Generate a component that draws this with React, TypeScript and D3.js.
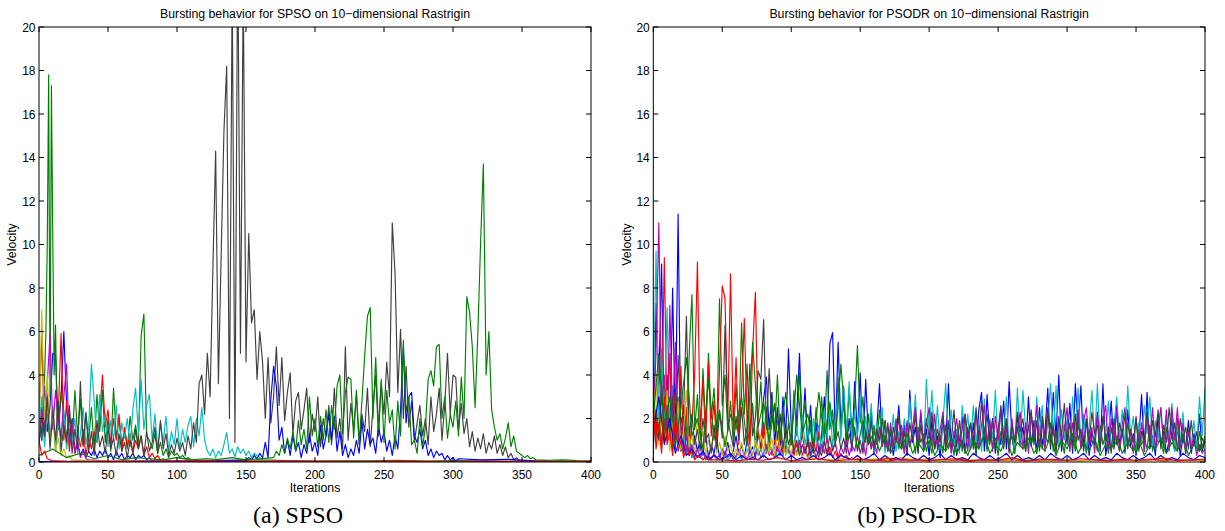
import React from 'react';
import * as d3 from 'd3';

type Seg = { start: number; step: number; values: number[] };
type Series = { color: string; segs: Seg[] };

// MATLAB default colour order
const BLUE = '#0000ff';
const GREEN = '#008000';
const RED = '#ff0000';
const CYAN = '#00bfbf';
const MAGENTA = '#bf00bf';
const YELLOW = '#bfbf00';
const BLACK = '#404040';

const xTicks = [0, 50, 100, 150, 200, 250, 300, 350, 400];
const yTicks = [0, 2, 4, 6, 8, 10, 12, 14, 16, 18, 20];

// ---------- SPSO (left) ----------
const spsoBlue1 = [2.0, 1.0, 3.5, 1.4, 2.6, 5.0, 4.9, 1.5, 3.0, 6.0, 2.6, 1.0, 2.0, 0.5, 0.8, 0.3, 0.6, 0.2, 0.5, 0.3,
  0.6, 0.2, 0.5, 0.3, 0.6, 0.2, 0.4, 0.1, 0.5, 0.2, 0.4, 0.1, 0.3, 0.2, 0.4, 0.1, 0.3, 0.2, 0.3, 0.1,
  0.2, 0.05, 0.1, 0.03, 0.05, 0.02];
const spsoBlue1Tail = [0.02, 0.01, 0.02, 0.01, 0.02, 0.01, 0.01, 0.02, 0.01, 0.01, 0.02, 0.01, 0.01, 0.01, 0.02, 0.01];

const spsoGreen1Head = [2.5, 1.8, 1.0, 3.0, 3.8, 6.0, 10.0, 17.8, 3.0, 17.3, 10.2, 4.0, 6.3, 2.0, 1.5, 2.4, 3.2];
const spsoGreen1 = [2.2, 1.1, 2.6, 0.8, 3.3, 1.2, 2.9, 0.7, 2.2, 1.0, 2.5, 0.6, 3.1, 1.4, 3.3, 0.9, 2.0, 0.5, 3.4, 1.1,
  2.0, 0.8, 1.5, 0.6, 2.1, 1.0, 1.7, 0.7, 5.8, 6.8, 1.2, 1.0, 0.6, 1.3, 0.4, 0.9, 0.3, 0.6, 0.2, 0.5,
  0.3, 0.4, 0.2, 0.3, 0.15, 0.2, 0.1];
const spsoGreen1Tail = [0.08, 0.05, 0.1, 0.06, 0.04, 0.07, 0.05, 0.08, 0.04, 0.06, 0.05, 0.03, 0.04, 0.03, 0.02];

const spsoRed1 = [2.0, 5.8, 1.2, 3.1, 0.8, 2.5, 0.6, 2.2, 5.9, 1.0, 2.8, 0.5, 1.7, 0.4, 1.2, 0.7, 1.5, 0.3, 1.1, 0.6,
  1.4, 0.9, 2.2, 4.0, 1.6, 2.4, 0.8, 2.0, 1.0, 2.2, 0.5, 1.6, 0.7, 1.3, 0.4, 1.0, 0.6, 1.2, 0.3, 0.7,
  0.2, 0.4, 0.15, 0.3, 0.1, 0.15, 0.05, 0.08, 0.03];
const spsoRed1Tail = [0.03, 0.02, 0.03, 0.02, 0.02, 0.03, 0.02, 0.02, 0.03, 0.02, 0.02, 0.02, 0.03, 0.02, 0.02, 0.02];

const spsoCyan = [1.5, 3.0, 0.7, 2.2, 1.0, 2.6, 0.5, 1.8, 1.2, 2.4, 0.6, 1.5, 0.9, 2.0, 0.4, 1.3, 2.5, 0.8, 1.6, 4.5,
  2.8, 0.9, 3.1, 1.4, 2.2, 0.7, 1.9, 1.0, 2.6, 0.6, 1.8, 1.1, 2.0, 0.7, 2.4, 3.4, 1.3, 3.8, 1.5, 2.6,
  3.1, 1.0, 2.2, 0.6, 1.8, 0.9, 2.1, 0.5, 1.4, 0.8, 2.0, 0.6, 1.5, 0.9, 1.7, 2.1, 0.7, 2.0, 1.2, 2.5,
  1.0, 0.5, 0.3, 0.6, 0.2, 0.5, 0.3, 0.8, 1.35, 0.4, 0.6, 0.25, 0.7, 0.4, 0.6, 0.3, 0.5, 0.2, 0.4, 0.3,
  0.2, 0.1, 0.05];
const spsoCyanTail = [0.03, 0.02, 0.04, 0.02, 0.03, 0.02, 0.02, 0.03, 0.02, 0.02, 0.01, 0.02];

const spsoMagenta = [0.8, 2.5, 1.2, 3.6, 5.9, 1.5, 3.3, 2.0, 1.0, 3.0, 4.5, 0.8, 1.9, 0.4, 0.9, 0.2, 0.5, 0.15, 0.1];
const spsoMagentaTail = [0.04, 0.03, 0.05, 0.03, 0.02, 0.04, 0.03, 0.02, 0.03, 0.02, 0.02, 0.03, 0.02, 0.01, 0.02];

const spsoYellow = [1.0, 7.0, 2.0, 4.0, 0.8, 2.4, 0.5, 1.1, 0.3, 0.6, 0.2, 0.3, 0.1];
const spsoYellowTail = [0.05, 0.03, 0.04, 0.02, 0.03, 0.02, 0.03, 0.02, 0.02, 0.03, 0.02, 0.01, 0.02, 0.02, 0.01, 0.02, 0.01, 0.01, 0.02];

const spsoBlack = [0.8, 2.1, 1.2, 3.0, 0.6, 2.4, 1.0, 2.8, 0.5, 1.7,
  0.9, 2.2, 0.4, 1.5, 0.6, 3.7, 0.8, 2.3, 0.5, 1.4,
  0.3, 1.9, 0.7, 1.2, 0.4, 1.6, 0.6, 1.1, 0.3, 1.3,
  0.5, 0.9, 0.2, 1.0, 0.4, 1.5, 0.6, 1.2, 0.3, 1.4,
  0.5, 0.9, 1.6, 0.4, 1.9, 0.6, 1.3, 0.3, 0.8, 0.4,
  1.1, 0.5, 0.9, 0.3, 1.2, 0.6, 1.8, 0.9, 3.6, 4.0,
  2.2, 5.0, 3.0, 8.9, 14.3, 3.6, 9.5, 15.2, 18.2, 2.0,
  22, 0.9, 24, 5.0, 22, 4.6, 10.5, 6.4, 7.0, 3.8,
  6.0, 4.6, 2.0, 4.8, 1.8, 3.0, 5.3, 2.6, 4.8, 1.9,
  3.2, 4.1, 1.3, 2.8, 3.2, 1.5, 2.4, 3.4, 0.9, 2.2,
  1.4, 3.0, 0.7, 2.0, 1.2, 2.6, 0.8, 3.4, 1.1, 2.0,
  0.6, 5.3, 1.0, 2.7, 1.5, 3.1, 0.8, 2.2, 1.4, 3.4,
  0.7, 2.5, 4.0, 1.2, 3.6, 2.2, 4.6, 3.0, 11.0, 8.7,
  3.2, 6.1, 2.0, 4.4, 1.6, 2.8, 0.9, 1.8, 2.6, 1.2,
  2.0, 0.8, 3.0, 1.4, 2.2, 3.4, 1.0, 2.6, 5.0, 2.2,
  4.0, 3.9, 1.5, 2.7, 1.3, 2.0, 0.7, 1.4, 0.5, 1.1,
  0.6, 1.3, 0.4, 0.9, 0.6, 1.2, 0.4, 0.8, 0.3, 0.7,
  0.2, 0.4, 0.1, 0.2, 0.05];
const spsoBlackTail = [0.03, 0.02, 0.03, 0.02, 0.02];

const spsoBlue2Pre = [0.02, 0.03, 0.02, 0.04, 0.03, 0.05, 0.1];
const spsoBlue2 = [0.2, 0.1, 0.3, 0.15, 0.4, 0.2, 0.9, 0.2, 2.9, 4.4,
  3.5, 1.0, 1.6, 0.4, 1.0, 0.3, 1.2, 0.5, 0.9, 0.2,
  0.8, 0.4, 1.3, 0.5, 0.9, 0.3, 1.7, 0.6, 1.2, 2.2,
  1.0, 2.1, 0.5, 1.4, 0.3, 0.8, 0.2, 0.6, 0.3, 1.0,
  0.4, 1.9, 0.6, 1.5, 0.8, 1.1, 0.4, 1.7, 0.9, 1.4,
  0.5, 1.0, 0.3, 1.2, 0.6, 2.4, 5.3, 1.8, 3.0, 3.2,
  1.2, 0.9, 1.5, 0.6, 1.0, 0.3, 0.6, 0.2, 0.5, 0.3,
  0.4, 0.1, 0.3, 0.1, 0.2, 0.05, 0.15];
const spsoBlue2Tail = [0.1, 0.12, 0.05, 0.02, 0.01];

const spsoGreen2Pre = [0.3, 0.6, 0.2, 0.4, 0.15, 0.3, 0.1, 0.2, 0.15, 0.1, 0.2, 0.1, 0.15, 0.12, 0.2, 0.1, 0.15];
const spsoGreen2 = [0.2, 0.5, 0.3, 0.8, 0.4, 1.1, 0.6, 1.4, 0.5, 1.9,
  0.8, 1.5, 0.6, 3.0, 1.2, 2.0, 0.7, 2.1, 1.0, 2.4,
  0.9, 2.6, 1.5, 3.5, 4.0, 1.3, 3.2, 3.9, 3.8, 1.1,
  3.3, 0.9, 2.8, 4.9, 6.7, 7.1, 2.0, 4.8, 1.5, 3.8,
  0.9, 3.3, 1.8, 2.4, 0.6, 2.8, 1.2, 5.6, 2.3, 3.0,
  0.8, 1.0, 0.4, 2.0, 0.7, 1.6, 3.8, 4.2, 3.5, 5.3,
  5.4, 2.0, 3.0, 1.1, 2.2, 1.6, 2.8, 1.2, 3.9, 2.0,
  7.6, 6.9, 5.3, 2.5, 5.9, 10.1, 13.7, 4.0, 6.0, 2.4,
  1.6, 1.0, 1.3, 0.6, 1.1, 1.8, 0.7, 1.2, 0.5, 0.4,
  0.3, 0.2, 0.3, 0.15, 0.2, 0.1];
const spsoGreen2Tail = [0.08, 0.1, 0.06, 0.05];

const spsoRed2Head = [1.0, 0.3, 0.5, 0.15, 0.1, 0.05];
const spsoRed2Tail = [0.03, 0.02, 0.04, 0.02, 0.03, 0.05, 0.02, 0.03, 0.04, 0.02, 0.03, 0.02, 0.04, 0.03, 0.02, 0.03, 0.02, 0.03, 0.02, 0.03];

// ---------- PSO-DR (right) ----------
const drBlue1 = [0.3, 7.3, 3.6, 9.1, 1.2, 4.0, 0.8, 8.0, 1.4, 11.4,
  0.5, 2.1, 0.4, 1.6, 0.2, 1.2, 0.5, 1.0, 0.3, 1.3,
  0.2, 0.8, 0.4, 1.1, 0.2, 0.6, 0.3, 0.9, 0.2, 0.5,
  1.2, 0.3, 0.8, 0.2, 1.0, 0.4, 0.7, 0.2, 1.4, 0.6,
  2.9, 3.9, 1.5, 3.2, 0.8, 2.5, 0.6, 3.0, 1.1, 5.2,
  1.6, 0.4, 2.2, 5.0, 1.2, 3.4, 0.7, 2.6, 0.5, 1.8,
  0.4, 1.2, 3.0, 0.9, 5.45, 5.95, 1.0, 5.5, 1.6, 3.4,
  0.7, 2.0, 0.5, 3.7, 1.2, 4.1, 0.6, 3.8, 1.0, 2.4,
  0.4, 1.5, 3.6, 0.8, 1.9, 0.5, 1.4, 0.3, 1.1, 2.6,
  0.6, 1.8, 0.3, 3.3, 0.9, 1.6, 0.4, 2.2, 0.7, 1.5,
  0.3, 1.9, 0.6, 1.2, 0.2, 2.0, 0.8, 3.6, 0.5, 1.4,
  0.3, 1.0, 2.1, 0.4, 1.3, 0.6, 1.8, 0.3, 2.4, 3.2,
  0.5, 3.1, 1.0, 2.0, 0.4, 1.5, 0.8, 2.8, 0.6, 3.7,
  1.2, 0.4, 2.2, 0.9, 1.6, 0.5, 3.0, 0.7, 1.9, 0.4,
  2.5, 0.8, 1.4, 3.4, 0.6, 3.2, 1.1, 4.0, 0.5, 1.7,
  0.9, 2.7, 0.4, 3.6, 1.5, 3.5, 0.6, 2.0, 0.3, 1.4,
  0.8, 2.3, 0.5, 3.6, 0.3, 1.2, 2.8, 0.6, 2.6, 0.9,
  1.5, 0.4, 2.4, 0.7, 1.3, 0.3, 1.0, 3.1, 0.5, 3.2,
  0.6, 1.2, 0.3, 2.1, 0.8, 1.4, 0.4, 1.0, 2.0, 0.5,
  1.6, 0.3, 1.1, 0.6, 1.9, 0.4, 1.3, 0.7, 2.2, 0.5,
  1.0];

const drGreen1 = [4.0, 1.2, 2.8, 0.6, 3.5, 1.0, 2.4, 0.5, 1.8, 3.0,
  0.7, 2.6, 1.1, 4.9, 7.7, 1.5, 3.1, 0.8, 4.3, 1.6,
  5.0, 2.0, 3.4, 1.2, 7.5, 2.6, 4.0, 1.4, 2.8, 0.9,
  3.6, 1.3, 6.4, 2.2, 4.5, 1.0, 2.7, 0.7, 2.0, 3.7,
  1.1, 2.5, 0.6, 2.9, 1.4, 4.0, 1.0, 2.3, 0.5, 1.8,
  0.8, 3.3, 1.2, 4.2, 1.6, 2.8, 0.9, 1.9, 0.6, 2.5,
  1.0, 3.0, 1.3, 4.2, 1.5, 2.4, 0.7, 3.9, 1.2, 2.8,
  0.8, 3.4, 1.4, 2.6, 5.35, 1.8, 3.0, 0.9, 2.2, 0.6,
  1.7, 0.8, 2.4, 1.0, 1.9, 0.5, 1.5, 0.8, 2.0, 0.6,
  1.4, 0.4, 1.8, 0.7, 1.2, 0.4, 1.6, 0.9, 1.3, 0.5,
  1.0, 0.4, 1.5, 0.8, 1.2, 0.4, 1.7, 0.6, 1.1, 0.3,
  1.4, 0.7, 1.0, 0.4, 1.6, 0.6, 1.2, 0.4, 1.5, 0.9,
  1.3, 0.5, 1.8, 0.7, 1.1, 0.3, 1.4, 0.6, 1.9, 0.8,
  1.2, 0.4, 1.6, 0.7, 1.0, 0.5, 1.7, 0.8, 1.3, 0.4,
  1.5, 0.6, 1.2, 0.9, 1.8, 0.5, 1.4, 0.7, 1.1, 0.4,
  1.6, 0.8, 1.3, 0.5, 1.9, 0.7, 1.2, 0.4, 1.5, 0.9,
  1.1, 0.5, 1.7, 0.8, 1.3, 0.4, 1.6, 0.7, 1.0, 0.5,
  1.4, 0.6, 1.8, 0.9, 1.2, 0.4, 1.5, 0.8, 1.1, 0.6,
  1.7, 0.5, 1.3, 0.9, 1.0, 0.4, 1.6, 0.7, 1.2, 0.5,
  2.0, 0.8, 1.3, 0.4, 1.5, 0.7, 1.0, 0.5, 1.4, 0.6,
  1.2];

const drRed1 = [3.5, 1.0, 4.5, 2.0, 9.4, 1.5, 5.0, 0.8, 3.2, 1.2,
  4.4, 0.6, 2.5, 0.3, 1.8, 4.0, 9.2, 1.5, 3.8, 0.9,
  4.6, 1.2, 2.8, 0.7, 4.3, 8.1, 7.5, 2.0, 8.65, 1.5,
  4.8, 0.8, 3.2, 6.6, 1.8, 0.6, 5.1, 7.8, 1.4, 0.5,
  1.8, 0.4, 1.2, 0.3, 1.0, 0.5, 1.4, 0.3, 0.9, 0.4,
  1.1, 0.3, 0.8, 0.5, 1.3, 0.4, 0.9, 0.2, 1.0, 0.5,
  1.4, 0.6, 1.0, 0.3, 0.7, 0.2, 0.5, 0.1, 0.4, 0.2,
  0.3, 0.1, 0.2, 0.1, 0.15, 0.1];
const drRed1Tail = [0.1, 0.05, 0.12, 0.08, 0.15, 0.06, 0.1, 0.04, 0.12, 0.08, 0.1, 0.05, 0.14, 0.07, 0.1, 0.05, 0.12, 0.08, 0.1, 0.06, 0.13, 0.05, 0.1, 0.07, 0.1];

const drCyan = [3.0, 9.7, 1.5, 5.2, 2.0, 7.1, 1.0, 3.5, 0.6, 2.4,
  0.5, 1.3, 0.3, 1.0, 0.2, 0.6, 0.2, 0.4, 0.1, 0.3,
  0.1, 0.2, 0.3, 0.1, 0.2, 0.1, 0.3, 0.1, 0.2, 0.4,
  0.2, 0.5, 0.1, 0.3, 0.6, 0.2, 0.4, 0.8, 0.3, 0.6,
  0.2, 0.5, 1.0, 0.4, 0.7, 0.2, 0.6, 0.3, 0.9, 0.4,
  1.2, 0.5, 1.6, 0.6, 2.2, 0.8, 1.5, 0.4, 2.0, 0.9,
  1.7, 0.5, 2.4, 1.1, 2.8, 0.7, 1.9, 3.2, 1.0, 3.5,
  1.4, 3.7, 0.8, 2.3, 1.2, 3.0, 0.6, 2.1, 1.0, 2.7,
  0.5, 1.8, 0.9, 2.5, 0.4, 1.6, 0.8, 2.2, 0.5, 1.4,
  0.9, 2.0, 0.6, 2.9, 1.1, 3.1, 0.7, 1.8, 0.5, 3.8,
  1.3, 3.3, 0.8, 2.6, 0.6, 1.9, 3.6, 1.0, 2.4, 0.7,
  1.5, 0.4, 2.6, 1.0, 2.2, 0.6, 2.6, 0.9, 1.7, 0.5,
  2.9, 0.8, 2.0, 1.1, 3.3, 0.6, 2.5, 1.2, 3.0, 0.7,
  1.9, 0.5, 3.4, 1.0, 3.3, 1.4, 0.6, 2.2, 0.9, 3.0,
  1.3, 2.6, 0.7, 1.8, 3.6, 1.2, 3.5, 0.8, 2.4, 1.0,
  2.0, 0.5, 3.0, 1.3, 3.4, 0.9, 2.2, 0.6, 1.6, 3.3,
  1.0, 3.6, 0.8, 2.0, 1.4, 2.8, 0.5, 1.7, 3.0, 1.1,
  2.4, 0.7, 3.5, 1.2, 2.1, 0.6, 1.8, 0.9, 2.6, 1.3,
  3.0, 0.7, 1.9, 1.0, 2.5, 0.6, 2.0, 1.1, 2.7, 0.5,
  1.6, 0.9, 2.3, 0.4, 1.4, 0.8, 1.9, 0.5, 3.0, 1.2,
  3.4];

const drMagenta = [2.0, 5.0, 11.0, 2.5, 4.0, 1.0, 7.2, 2.0, 5.5, 0.8,
  1.9, 0.4, 1.2, 0.3, 0.8, 0.2, 0.6, 0.2, 0.5, 0.1,
  0.3, 0.1, 0.4, 0.2, 0.3, 0.1, 0.5, 0.2, 0.4, 0.1,
  0.3, 0.6, 0.2, 0.4, 0.1, 0.5, 0.2, 0.3, 0.6, 0.2,
  0.4, 0.8, 0.3, 0.5, 0.2, 0.7, 0.3, 0.9, 0.4, 0.6,
  0.2, 0.8, 0.4, 1.0, 0.3, 0.7, 0.2, 0.9, 0.4, 0.6,
  0.2, 0.8, 0.4, 1.1, 0.3, 0.6, 0.9, 0.2, 0.7, 0.4,
  1.0, 0.3, 0.8, 0.5, 1.2, 0.4, 0.9, 0.3, 1.3, 0.6,
  1.0, 0.4, 1.6, 0.7, 1.2, 0.5, 1.8, 0.6, 1.9, 0.8,
  1.7, 0.4, 1.9, 0.7, 1.6, 2.5, 0.9, 2.4, 0.5, 1.8,
  2.5, 0.8, 2.2, 0.6, 1.5, 2.3, 0.7, 1.9, 0.4, 1.2,
  2.0, 0.6, 1.6, 2.2, 0.5, 1.8, 0.9, 2.3, 0.6, 1.7,
  2.6, 0.8, 1.9, 0.5, 2.1, 1.0, 2.4, 0.7, 1.6, 0.4,
  2.0, 0.9, 1.5, 2.3, 0.6, 1.8, 0.4, 2.2, 1.1, 2.6,
  0.7, 1.9, 0.5, 2.4, 1.0, 1.7, 0.6, 2.1, 0.8, 1.5,
  2.5, 0.5, 1.8, 0.9, 2.4, 0.6, 1.9, 2.5, 0.7, 1.6,
  0.4, 2.2, 0.8, 1.9, 2.6, 0.6, 2.0, 1.0, 2.4, 0.5,
  1.7, 2.5, 0.8, 1.4, 0.4, 2.1, 0.7, 1.8, 0.5, 2.3,
  1.0, 2.5, 0.6, 1.6, 2.5, 0.8, 2.4, 0.5, 2.5, 1.0,
  2.5, 0.6, 1.8, 0.4, 1.4, 0.7, 1.1, 0.3, 0.8, 0.4,
  0.6];

const drYellow = [1.5, 4.0, 0.8, 2.6, 1.2, 3.3, 0.5, 2.0, 1.0, 2.8,
  0.6, 1.5, 3.3, 0.7, 1.2, 0.4, 2.0, 0.8, 1.4, 0.3,
  1.0, 0.5, 1.6, 0.4, 0.9, 0.3, 1.2, 0.5, 0.8, 0.2,
  0.6, 0.3, 0.9, 0.2, 0.5, 0.8, 0.3, 1.0, 0.4, 1.3,
  0.5, 1.6, 0.4, 1.1, 0.3, 1.4, 0.6, 1.0, 0.3, 0.7,
  0.4, 1.0, 0.3, 0.6, 0.2, 0.5, 0.15, 0.3, 0.1, 0.2,
  0.1];
const drYellowTail = [0.1, 0.2, 0.05, 0.15, 0.1, 0.2, 0.08, 0.12, 0.05, 0.15, 0.1, 0.06, 0.12, 0.08, 0.15, 0.05, 0.1, 0.12, 0.06, 0.1, 0.08, 0.14, 0.05, 0.1, 0.12, 0.06, 0.1, 0.08];

const drBlack = [0.8, 2.4, 1.0, 3.5, 0.9, 2.6, 1.4, 3.0, 0.6, 4.9,
  1.8, 2.3, 6.7, 1.2, 2.2, 0.8, 1.5, 0.5, 2.0, 1.0,
  1.3, 0.4, 1.7, 0.6, 2.3, 1.1, 6.3, 2.0, 1.3, 0.7,
  2.1, 1.0, 2.5, 0.8, 1.6, 4.5, 1.2, 2.0, 4.2, 3.8,
  6.55, 1.5, 4.3, 1.8, 2.7, 1.0, 2.2, 0.6, 1.6, 0.8,
  1.3, 0.5, 1.0, 0.3, 0.8, 0.4, 1.1, 0.3, 0.7, 0.2,
  0.6, 0.3, 0.9, 0.4, 1.2, 0.5, 0.9, 1.4, 0.6, 1.1,
  0.4, 1.3, 0.7, 1.6, 0.5, 1.0, 0.4, 1.4, 0.8, 1.9,
  0.6, 1.5, 1.0, 2.0, 0.7, 1.8, 0.5, 1.6, 0.9, 2.1,
  0.6, 1.4, 0.4, 1.8, 1.0, 2.2, 0.5, 1.7, 0.8, 2.0,
  1.1, 2.3, 0.6, 1.5, 0.9, 2.1, 0.5, 1.8, 1.0, 2.4,
  0.7, 1.9, 0.5, 2.2, 1.2, 1.8, 0.6, 2.5, 1.0, 2.8,
  1.3, 2.2, 0.8, 1.9, 0.6, 1.5, 2.6, 1.0, 2.0, 0.5,
  1.7, 0.9, 2.3, 1.4, 2.0, 0.7, 1.6, 2.4, 0.8, 1.9,
  0.5, 2.1, 1.1, 2.5, 0.7, 1.6, 0.4, 2.0, 1.2, 2.7,
  0.8, 1.8, 0.6, 2.2, 1.0, 1.5, 0.5, 2.0, 0.9, 2.3,
  1.3, 1.7, 0.6, 2.1, 1.0, 1.6, 0.4, 2.0, 0.8, 1.8,
  1.2, 2.2, 0.6, 1.5, 0.9, 2.0, 0.5, 1.4, 1.0, 2.3,
  0.7, 1.9, 1.2, 2.4, 0.6, 1.7, 0.9, 2.5, 1.1, 1.8,
  0.5, 2.0, 1.0, 1.6, 0.6, 1.9, 0.8, 1.4, 0.5, 1.1,
  0.8];

const drBlue2 = [1.5, 3.0, 0.8, 2.0, 0.4, 1.2, 0.3, 0.6, 0.2, 0.5,
  0.1, 0.3, 0.1, 0.2, 0.4, 0.1, 0.3, 0.1, 0.2, 0.1,
  0.3, 0.1, 0.2, 0.4, 0.1, 0.3, 0.1, 0.2, 0.1, 0.3,
  0.1, 0.2, 0.4, 0.1, 0.3, 0.2, 0.1, 0.3, 0.1, 0.2,
  0.4, 0.1, 0.3, 0.1, 0.2, 0.1, 0.4, 0.2, 0.1, 0.3,
  0.1, 0.2, 0.4, 0.1, 0.3, 0.1, 0.2, 0.1, 0.4, 0.2,
  0.1, 0.3, 0.1, 0.2, 0.4, 0.1, 0.3, 0.1, 0.2, 0.1,
  0.3, 0.1, 0.4, 0.2, 0.1, 0.3, 0.1, 0.2, 0.4, 0.1,
  0.3, 0.1, 0.2, 0.1, 0.4, 0.2, 0.1, 0.3, 0.1, 0.2,
  0.4, 0.1, 0.3, 0.1, 0.2, 0.1, 0.4, 0.2, 0.1, 0.3,
  0.2];

const drGreen2 = [2.0, 5.0, 1.5, 3.0, 0.8, 2.5, 4.8, 1.2, 2.0, 0.6,
  3.8, 1.0, 2.4, 0.7, 2.2, 1.5, 3.0, 0.8, 5.5, 1.6,
  2.8, 0.9, 2.6, 1.1, 3.2, 0.8, 4.0, 1.3, 2.2, 0.7,
  3.2, 1.0, 2.7, 0.9, 4.5, 1.2, 2.0, 0.6, 1.9, 0.8,
  1.4, 0.5, 1.2, 0.4, 1.0, 0.6, 1.3, 0.4, 0.9, 0.5,
  1.2, 0.3, 0.8, 0.5, 1.1, 0.4, 0.9, 0.3, 1.0, 0.6,
  1.3, 0.4, 0.8, 0.5, 1.2, 0.3, 0.9, 0.6, 1.1, 0.4,
  0.8, 0.5, 1.2, 0.3, 1.0, 0.6, 1.3, 0.4, 0.9, 0.5,
  1.1, 0.3, 0.8, 0.6, 1.2, 0.4, 0.9, 0.5, 1.0, 0.3,
  0.8, 0.6, 1.1, 0.4, 0.9, 0.5, 1.2, 0.3, 0.8, 0.5,
  1.0];

const drRed2Head = [2.5, 0.6, 1.8, 0.4, 3.0, 0.8, 1.4, 0.3, 2.2, 0.5, 1.0, 0.2, 0.7, 0.3, 0.5, 0.1, 0.3, 0.2, 0.1, 0.2, 0.1];
const drRed2Tail = [0.1, 0.05, 0.12, 0.08, 0.2, 0.06, 0.1, 0.15, 0.05, 0.1,
  0.12, 0.06, 0.18, 0.08, 0.1, 0.05, 0.12, 0.15, 0.06, 0.1,
  0.08, 0.2, 0.05, 0.1, 0.12, 0.07, 0.15, 0.1, 0.05, 0.12,
  0.08, 0.1, 0.18, 0.06, 0.1, 0.12];

// plot order follows particle index (b, g, r, c, m, y, k, b, g, r)
const spsoSeries: Series[] = [
  { color: BLUE, segs: [{ start: 0, step: 2, values: spsoBlue1 }, { start: 100, step: 20, values: spsoBlue1Tail }] },
  { color: GREEN, segs: [{ start: 0, step: 1, values: spsoGreen1Head }, { start: 18, step: 2, values: spsoGreen1 }, { start: 120, step: 20, values: spsoGreen1Tail }] },
  { color: RED, segs: [{ start: 0, step: 2, values: spsoRed1 }, { start: 100, step: 20, values: spsoRed1Tail }] },
  { color: CYAN, segs: [{ start: 0, step: 2, values: spsoCyan }, { start: 180, step: 20, values: spsoCyanTail }] },
  { color: MAGENTA, segs: [{ start: 0, step: 2, values: spsoMagenta }, { start: 50, step: 25, values: spsoMagentaTail }] },
  { color: YELLOW, segs: [{ start: 0, step: 2, values: spsoYellow }, { start: 40, step: 20, values: spsoYellowTail }] },
  { color: BLACK, segs: [{ start: 0, step: 2, values: spsoBlack }, { start: 360, step: 10, values: spsoBlackTail }] },
  { color: BLUE, segs: [{ start: 0, step: 25, values: spsoBlue2Pre }, { start: 152, step: 2, values: spsoBlue2 }, { start: 320, step: 20, values: spsoBlue2Tail }] },
  { color: GREEN, segs: [{ start: 0, step: 10, values: spsoGreen2Pre }, { start: 170, step: 2, values: spsoGreen2 }, { start: 370, step: 10, values: spsoGreen2Tail }] },
  { color: RED, segs: [{ start: 0, step: 2, values: spsoRed2Head }, { start: 20, step: 20, values: spsoRed2Tail }] },
];

const drSeries: Series[] = [
  { color: BLUE, segs: [{ start: 0, step: 2, values: drBlue1 }] },
  { color: GREEN, segs: [{ start: 0, step: 2, values: drGreen1 }] },
  { color: RED, segs: [{ start: 0, step: 2, values: drRed1 }, { start: 160, step: 10, values: drRed1Tail }] },
  { color: CYAN, segs: [{ start: 0, step: 2, values: drCyan }] },
  { color: MAGENTA, segs: [{ start: 0, step: 2, values: drMagenta }] },
  { color: YELLOW, segs: [{ start: 0, step: 2, values: drYellow }, { start: 130, step: 10, values: drYellowTail }] },
  { color: BLACK, segs: [{ start: 0, step: 2, values: drBlack }] },
  { color: BLUE, segs: [{ start: 0, step: 4, values: drBlue2 }] },
  { color: GREEN, segs: [{ start: 0, step: 4, values: drGreen2 }] },
  { color: RED, segs: [{ start: 0, step: 2, values: drRed2Head }, { start: 50, step: 10, values: drRed2Tail }] },
];

const toPoints = (segs: Seg[]): [number, number][] =>
  segs.flatMap(s => s.values.map((v, i) => [s.start + i * s.step, v] as [number, number]));

const FONT = "'Liberation Sans', Arial, Helvetica, sans-serif";

type PanelProps = {
  id: string;
  left: number;
  right: number;
  top: number;
  bottom: number;
  title: string;
  caption: string;
  captionX: number;
  ylabelX: number;
  series: Series[];
};

const Panel = ({ id, left, right, top, bottom, title, caption, captionX, ylabelX, series }: PanelProps) => {
  const x = d3.scaleLinear().domain([0, 400]).range([left, right]);
  const y = d3.scaleLinear().domain([0, 20]).range([bottom, top]);
  const line = d3.line<[number, number]>().x(d => x(d[0])).y(d => y(d[1]));
  const tick = 5;
  const midX = (left + right) / 2;

  return (
    <g>
      <defs>
        <clipPath id={id}>
          <rect x={left} y={top} width={right - left} height={bottom - top} />
        </clipPath>
      </defs>
      <rect x={left} y={top} width={right - left} height={bottom - top} fill="#fff" />
      <g clipPath={`url(#${id})`}>
        {series.map((s, i) => (
          <path key={i} d={line(toPoints(s.segs)) || ''} fill="none" stroke={s.color} strokeWidth={1.15} strokeLinejoin="round" />
        ))}
      </g>
      <rect x={left} y={top} width={right - left} height={bottom - top} fill="none" stroke="#000" strokeWidth={1} />
      {xTicks.map(t => (
        <g key={`x${t}`}>
          <line x1={x(t)} x2={x(t)} y1={bottom} y2={bottom - tick} stroke="#000" />
          <line x1={x(t)} x2={x(t)} y1={top} y2={top + tick} stroke="#000" />
          <text x={x(t)} y={bottom + 16.5} textAnchor="middle" fontSize={12} fontFamily={FONT}>{t}</text>
        </g>
      ))}
      {yTicks.map(t => (
        <g key={`y${t}`}>
          <line x1={left} x2={left + tick} y1={y(t)} y2={y(t)} stroke="#000" />
          <line x1={right} x2={right - tick} y1={y(t)} y2={y(t)} stroke="#000" />
          <text x={left - 3.5} y={y(t) + 4.8} textAnchor="end" fontSize={12} fontFamily={FONT}>{t}</text>
        </g>
      ))}
      <text x={midX} y={17.5} textAnchor="middle" fontSize={12.3} fontFamily={FONT}>{title}</text>
      <text x={midX} y={491.5} textAnchor="middle" fontSize={12.3} fontFamily={FONT}>Iterations</text>
      <text transform={`translate(${ylabelX},${(top + bottom) / 2}) rotate(-90)`} textAnchor="middle" fontSize={12.3} fontFamily={FONT}>Velocity</text>
      <text x={captionX} y={523} textAnchor="middle" fontSize={24} fontFamily="'Liberation Serif', 'Times New Roman', serif">{caption}</text>
    </g>
  );
};

export default function App() {
  return (
    <svg width={1225} height={531} style={{ position: 'absolute', left: 0, top: 0, background: '#fff' }}>
      <rect width={1225} height={531} fill="#fff" />
      <Panel id="clipA" left={39} right={591} top={27} bottom={462}
        title="Bursting behavior for SPSO on 10−dimensional Rastrigin"
        caption="(a) SPSO" captionX={298} ylabelX={15.5} series={spsoSeries} />
      <Panel id="clipB" left={653.3} right={1205} top={27} bottom={462}
        title="Bursting behavior for PSODR on 10−dimensional Rastrigin"
        caption="(b) PSO-DR" captionX={917} ylabelX={631} series={drSeries} />
    </svg>
  );
}
